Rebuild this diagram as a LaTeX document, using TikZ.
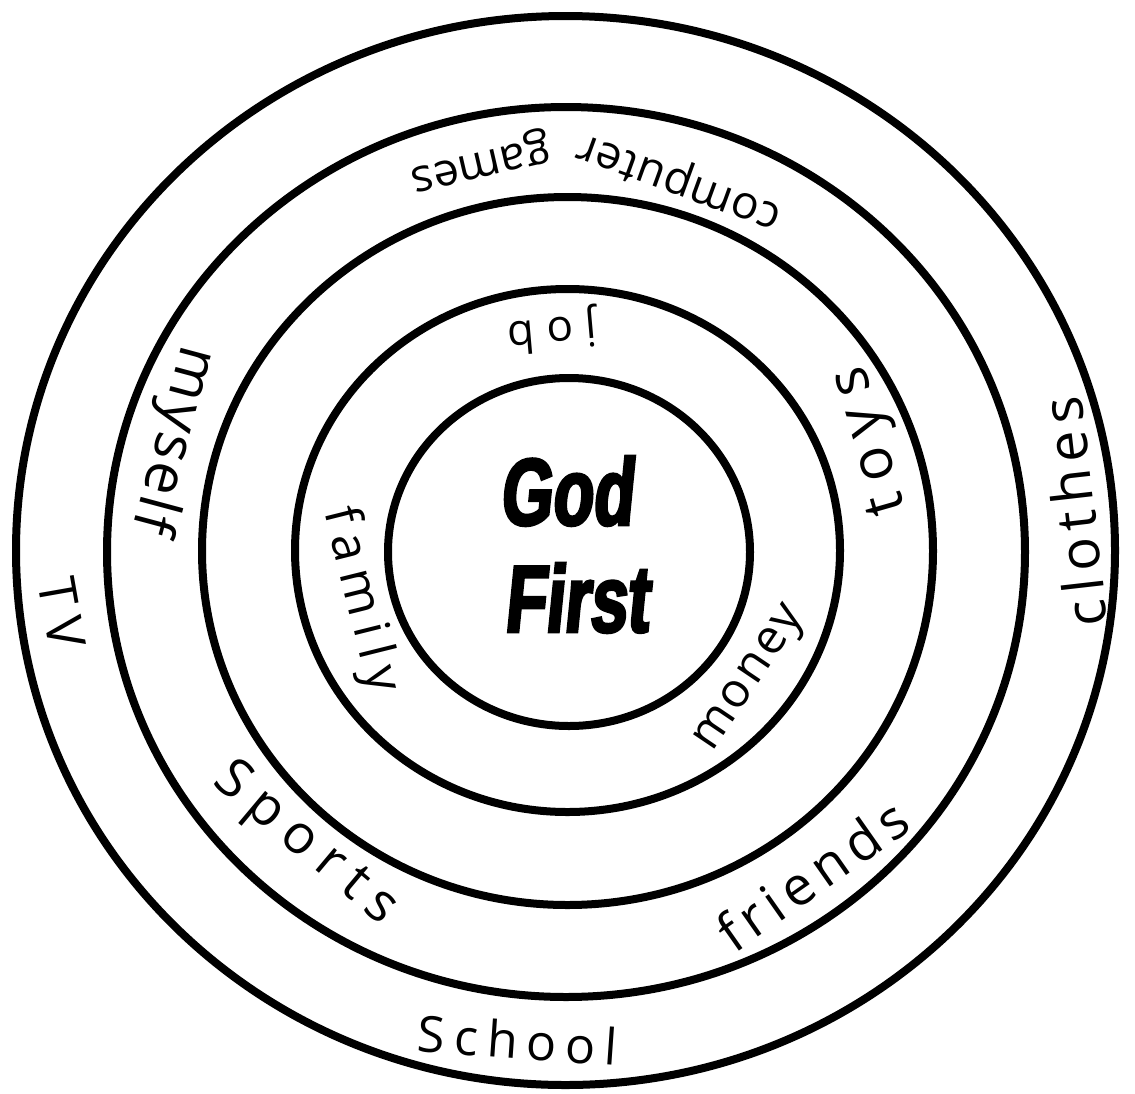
\documentclass[tikz,border=0pt]{standalone}
\usepackage{fontspec}
\newfontfamily\hand{Open Sans}
\newfontfamily\godfont[FakeStretch=0.7,FakeSlant=0.1,FakeBold=3]{Liberation Sans}
\begin{document}
\begin{tikzpicture}[x=1pt,y=-1pt,
  ring/.style={draw=black,line width=8pt},
  hw/.style 2 args={font=\hand\fontsize{#1}{#1}\selectfont\addfontfeature{LetterSpace=#2},inner sep=0pt,text=black},
  god/.style={font=\godfont\bfseries\fontsize{95}{95}\selectfont,inner sep=0pt,text=black}]
\useasboundingbox[fill=white] (0,0) rectangle (1135,1093);
\draw[ring] (565.5,550.5) ellipse [x radius=549.5,y radius=534.5];
\draw[ring] (566,552) ellipse [x radius=459,y radius=445];
\draw[ring] (567.5,551) ellipse [x radius=365.5,y radius=354];
\draw[ring] (567.5,550.5) ellipse [x radius=272.5,y radius=261.5];
\draw[ring] (569,552) ellipse [x radius=181,y radius=174];
\node[rotate=-80, hw={52}{20}] (tv) at (62,613) {TV};
\node[rotate=-105, hw={58}{5}] (myself) at (172,440) {myself};
\node[rotate=96.5, hw={56}{13}] (clothes) at (1074,512) {clothes};
\node[rotate=-4, hw={50}{18}] (school) at (518,1040) {School};
\node[rotate=193, hw={46}{0}] (games) at (480,160) {games};
\node[rotate=160, hw={46}{1}] (computer) at (680,180) {computer};
\node[rotate=106, hw={58}{23}] (toys) at (873,440) {toys};
\node[rotate=-40, hw={54}{22}] (sports) at (305,845) {Sports};
\node[rotate=35, hw={54}{13}] (friends) at (812,875) {friends};
\node[rotate=185, hw={44}{27}] (job) at (552,330) {job};
\node[rotate=-76, hw={50}{19}] (family) at (360,600) {family};
\node[rotate=56, hw={48}{6}] (money) at (752,680) {money};
\node[god] (god) at (566,491) {God};
\node[god] (first) at (576,598) {First};
\end{tikzpicture}
\end{document}
